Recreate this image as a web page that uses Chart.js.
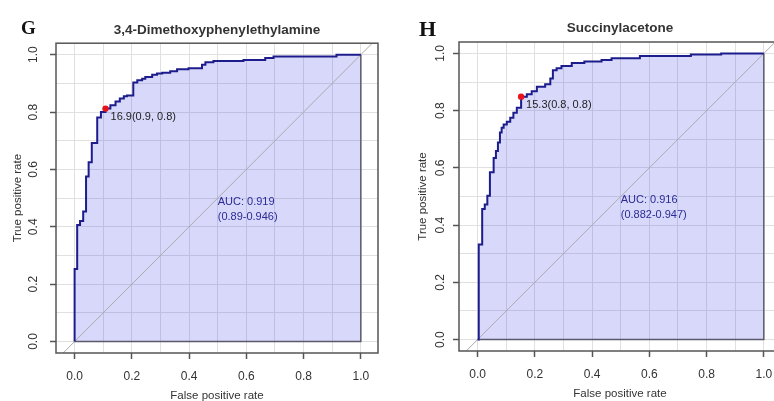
<!DOCTYPE html>
<html>
<head>
<meta charset="utf-8">
<script src="https://cdn.jsdelivr.net/npm/chart.js@4.4.1/dist/chart.umd.min.js"></script>
<style>
  html, body { margin: 0; padding: 0; background: #fff; overflow: hidden; width: 774px; height: 401px; }
  canvas { position: absolute; top: 0; }
  #rocG { left: 0; }
  #rocH { left: 403px; }
</style>
</head>
<body>
<canvas id="rocG" width="390" height="403"></canvas>
<canvas id="rocH" width="390" height="401"></canvas>
<script>
// grid / tick positions (labels only on every second one)
const gridValues = [0, 0.1, 0.2, 0.3, 0.4, 0.5, 0.6, 0.7, 0.8, 0.9, 1.0];
const xRange = [-0.065, 1.06];
const yRange = [-0.04, 1.04];

// G: 3,4-Dimethoxyphenylethylamine (ROC corner points)
const gFpr = [0, 0, 0.009, 0.019, 0.030, 0.040, 0.049, 0.060, 0.079, 0.092, 0.108, 0.125, 0.143, 0.158, 0.172, 0.183, 0.205, 0.219, 0.236, 0.247, 0.271, 0.288, 0.306, 0.334, 0.358, 0.398, 0.445, 0.457, 0.485, 0.590, 0.666, 0.695, 0.915, 1.0];
const gTpr = [0, 0.253, 0.406, 0.420, 0.453, 0.575, 0.625, 0.692, 0.781, 0.800, 0.812, 0.824, 0.837, 0.847, 0.855, 0.858, 0.903, 0.911, 0.916, 0.922, 0.930, 0.934, 0.937, 0.942, 0.949, 0.953, 0.965, 0.974, 0.978, 0.981, 0.988, 0.994, 1.0, 1.0];
const gBest = [0.108, 0.812];
const gBestLabel = '16.9(0.9, 0.8)';
const gAuc = ['AUC: 0.919', '(0.89-0.946)'];

// H: Succinylacetone
const hFpr = [0, 0.004, 0.016, 0.025, 0.034, 0.043, 0.056, 0.064, 0.071, 0.078, 0.084, 0.091, 0.102, 0.114, 0.125, 0.137, 0.152, 0.172, 0.189, 0.207, 0.236, 0.254, 0.263, 0.276, 0.293, 0.329, 0.373, 0.433, 0.468, 0.567, 0.745, 0.851, 1.0];
const hTpr = [0, 0.332, 0.456, 0.472, 0.503, 0.585, 0.635, 0.659, 0.689, 0.724, 0.740, 0.752, 0.761, 0.775, 0.793, 0.810, 0.849, 0.857, 0.868, 0.884, 0.892, 0.912, 0.941, 0.948, 0.956, 0.967, 0.972, 0.977, 0.983, 0.991, 0.996, 1.0, 1.0];
const hBest = [0.152, 0.849];
const hBestLabel = '15.3(0.8, 0.8)';
const hAuc = ['AUC: 0.916', '(0.882-0.947)'];

Chart.defaults.font.family = '"Liberation Sans", Arial, sans-serif';
Chart.defaults.color = '#333';

function zip(xs, ys) {
  return xs.map((x, i) => ({x, y: ys[i]}));
}

function rocChart(id, p) {
  const last = p.fpr.length - 1;

  const panelText = {
    id: 'panelText',
    afterDatasetsDraw(chart) {
      const {ctx, chartArea: a, scales: {x, y}} = chart;
      ctx.save();
      ctx.strokeStyle = '#555';
      ctx.lineWidth = 1.5;
      ctx.strokeRect(a.left, a.top, a.right - a.left, a.bottom - a.top);

      ctx.font = '11px "Liberation Sans", Arial, sans-serif';
      ctx.textAlign = 'left';
      ctx.textBaseline = 'middle';
      ctx.fillStyle = '#222';
      ctx.fillText(p.bestLabel, x.getPixelForValue(p.best[0]) + 5, y.getPixelForValue(p.best[1]) + 8);

      ctx.fillStyle = '#2b2b95';
      let ax = x.getPixelForValue(0.5), ay = y.getPixelForValue(0.46);
      ctx.fillText(p.auc[0], ax, ay - 7.5);
      ctx.fillText(p.auc[1], ax, ay + 7.5);

      ctx.fillStyle = '#111';
      ctx.textAlign = 'center';
      ctx.textBaseline = 'alphabetic';
      ctx.font = `bold ${p.letterSize}px "Liberation Serif", "Times New Roman", serif`;
      ctx.fillText(p.letter, p.letterX, p.letterY);
      ctx.restore();
    }
  };

  return new Chart(document.getElementById(id), {
    type: 'scatter',
    data: {
      datasets: [
        {
          label: 'cutoff',
          data: [{x: p.best[0], y: p.best[1]}],
          pointRadius: 3.2,
          pointBackgroundColor: '#e8141c',
          pointBorderWidth: 0
        },
        {
          label: 'ROC',
          data: zip(p.fpr, p.tpr),
          showLine: true,
          stepped: 'before',
          borderColor: '#1c1c8c',
          borderWidth: 2,
          pointRadius: 0,
          fill: 'origin',
          backgroundColor: 'rgba(60,60,235,0.2)'
        },
        {
          label: 'edge',
          data: [
            {x: p.fpr[0], y: p.tpr[0]},
            {x: p.fpr[last], y: p.tpr[0]},
            {x: p.fpr[last], y: p.tpr[last]}
          ],
          showLine: true,
          borderColor: '#5a5a6a',
          borderWidth: 1.5,
          pointRadius: 0
        },
        {
          label: 'diagonal',
          data: [{x: xRange[0], y: xRange[0]}, {x: xRange[1], y: xRange[1]}],
          showLine: true,
          borderColor: '#aaaaaa',
          borderWidth: 1,
          pointRadius: 0
        }
      ]
    },
    options: {
      responsive: false,
      animation: false,
      devicePixelRatio: 1,
      events: [],
      layout: {padding: {left: 0, right: 12, top: 0, bottom: 0}},
      plugins: {
        legend: {display: false},
        tooltip: {enabled: false},
        filler: {drawTime: 'beforeDatasetsDraw'},
        title: {
          display: true,
          text: p.title,
          fullSize: false,
          color: '#333',
          font: {size: 13.5, weight: 'bold'},
          padding: {top: p.titleTop, bottom: p.titleBottom}
        }
      },
      scales: {
        x: {
          type: 'linear',
          min: xRange[0],
          max: xRange[1],
          afterBuildTicks: s => { s.ticks = gridValues.map(v => ({value: v})); },
          afterFit: s => { s.height = 50; },
          border: {display: false},
          grid: {
            color: '#e0e0e0',
            tickLength: 6,
            tickWidth: 1.5,
            tickColor: c => c.index % 2 ? 'rgba(0,0,0,0)' : '#555'
          },
          ticks: {
            autoSkip: false,
            maxRotation: 0,
            padding: 10,
            color: '#333',
            font: {size: 12},
            callback: (v, i) => i % 2 ? '' : v.toFixed(1)
          },
          title: {
            display: true,
            text: 'False positive rate',
            color: '#333',
            font: {size: 11.5},
            padding: {top: 0, bottom: 0}
          }
        },
        y: {
          type: 'linear',
          min: yRange[0],
          max: yRange[1],
          afterBuildTicks: s => { s.ticks = gridValues.map(v => ({value: v})); },
          afterFit: s => { s.width = 56; },
          border: {display: false},
          grid: {
            color: '#e0e0e0',
            tickLength: 6,
            tickWidth: 1.5,
            tickColor: c => c.index % 2 ? 'rgba(0,0,0,0)' : '#555'
          },
          ticks: {
            autoSkip: false,
            minRotation: 90,
            maxRotation: 90,
            crossAlign: 'center',
            padding: p.yTickPad,
            color: '#333',
            font: {size: 12},
            callback: (v, i) => i % 2 ? '' : v.toFixed(1)
          },
          title: {
            display: true,
            text: 'True positive rate',
            color: '#333',
            font: {size: 11.5},
            padding: {top: p.yTitlePad, bottom: 0}
          }
        }
      }
    },
    plugins: [panelText]
  });
}

rocChart('rocG', {
  title: '3,4-Dimethoxyphenylethylamine',
  fpr: gFpr, tpr: gTpr, best: gBest, bestLabel: gBestLabel, auc: gAuc,
  letter: 'G', letterX: 28.5, letterY: 33.5, letterSize: 19,
  titleTop: 22, titleBottom: 5, yTickPad: 8, yTitlePad: 10.6
});

rocChart('rocH', {
  title: 'Succinylacetone',
  fpr: hFpr, tpr: hTpr, best: hBest, bestLabel: hBestLabel, auc: hAuc,
  letter: 'H', letterX: 24.5, letterY: 36, letterSize: 22,
  titleTop: 20, titleBottom: 5.8, yTickPad: 4, yTitlePad: 12.6
});
</script>
</body>
</html>
